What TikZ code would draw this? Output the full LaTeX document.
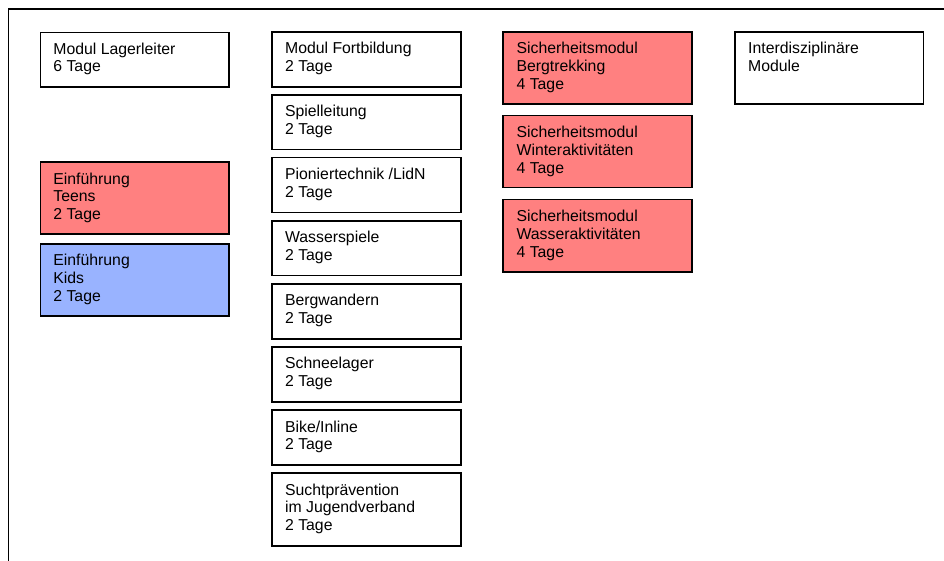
\documentclass[tikz,border=0pt]{standalone}
\usepackage{fontspec}
\setmainfont{Liberation Sans}
\definecolor{modred}{HTML}{FF8080}
\definecolor{modblue}{HTML}{99B3FF}
\newcommand{\fl}{\rule{0pt}{12pt}}
\begin{document}
\begin{tikzpicture}[
  box/.style={draw=black, line width=1.5pt, anchor=north west, inner sep=0pt,
              minimum width=188.6pt, minimum height=54.8pt},
  tall/.style={minimum height=72pt},
  lbl/.style={anchor=north west, align=left, inner sep=0pt,
              font=\fontsize{15.8}{17.8}\selectfont},
  frame/.style={draw=black, line width=1.5pt}
]
\useasboundingbox (0pt,0pt) rectangle (944pt,-561pt);
% frame (top and left edges)
\coordinate (fb) at (8.5pt,-565pt);
\coordinate (fc) at (8.5pt,-9pt);
\coordinate (fr) at (950pt,-9pt);
\draw[frame] (fb) -- (fc) -- (fr);

% column 1
\node[box] (lager) at (39.7pt,-31.6pt) {};
\node[lbl] (tlager) at ([shift={(13.5pt,-10.4pt)}]lager.north west) {\fl Modul Lagerleiter\\6 Tage};
\node[box, tall, fill=modred] (teens) at (39.7pt,-161.5pt) {};
\node[lbl] (tteens) at ([shift={(13.5pt,-10.4pt)}]teens.north west) {\fl Einführung\\Teens\\2 Tage};
\node[box, tall, fill=modblue] (kids) at (39.7pt,-243.2pt) {};
\node[lbl] (tkids) at ([shift={(13.5pt,-10.4pt)}]kids.north west) {\fl Einführung\\Kids\\2 Tage};

% column 2
\node[box] (fort) at (271.4pt,-31.4pt) {};
\node[lbl] (tfort) at ([shift={(13.5pt,-10.4pt)}]fort.north west) {\fl Modul Fortbildung\\2 Tage};
\node[box] (spiel) at (271.4pt,-94.2pt) {};
\node[lbl] (tspiel) at ([shift={(13.5pt,-10.4pt)}]spiel.north west) {\fl Spielleitung\\2 Tage};
\node[box] (pion) at (271.4pt,-157pt) {};
\node[lbl] (tpion) at ([shift={(13.5pt,-10.4pt)}]pion.north west) {\fl Pioniertechnik /LidN\\2 Tage};
\node[box] (wasser) at (271.4pt,-220.1pt) {};
\node[lbl] (twasser) at ([shift={(13.5pt,-10.4pt)}]wasser.north west) {\fl Wasserspiele\\2 Tage};
\node[box] (berg) at (271.4pt,-283.3pt) {};
\node[lbl] (tberg) at ([shift={(13.5pt,-10.4pt)}]berg.north west) {\fl Bergwandern\\2 Tage};
\node[box] (schnee) at (271.4pt,-346.3pt) {};
\node[lbl] (tschnee) at ([shift={(13.5pt,-10.4pt)}]schnee.north west) {\fl Schneelager\\2 Tage};
\node[box] (bike) at (271.4pt,-409.4pt) {};
\node[lbl] (tbike) at ([shift={(13.5pt,-10.4pt)}]bike.north west) {\fl Bike/Inline\\2 Tage};
\node[box, minimum height=72.8pt] (sucht) at (271.4pt,-472.4pt) {};
\node[lbl] (tsucht) at ([shift={(13.5pt,-10.4pt)}]sucht.north west) {\fl Suchtprävention\\im Jugendverband\\2 Tage};

% column 3
\node[box, tall, fill=modred] (sberg) at (502.4pt,-31.4pt) {};
\node[lbl] (tsberg) at ([shift={(14pt,-10.4pt)}]sberg.north west) {\fl Sicherheitsmodul\\Bergtrekking\\4 Tage};
\node[box, tall, fill=modred] (swinter) at (502.4pt,-115pt) {};
\node[lbl] (tswinter) at ([shift={(14pt,-10.4pt)}]swinter.north west) {\fl Sicherheitsmodul\\Winteraktivitäten\\4 Tage};
\node[box, tall, fill=modred] (swasser) at (502.4pt,-199pt) {};
\node[lbl] (tswasser) at ([shift={(14pt,-10.4pt)}]swasser.north west) {\fl Sicherheitsmodul\\Wasseraktivitäten\\4 Tage};

% column 4
\node[box, tall] (inter) at (734pt,-31.4pt) {};
\node[lbl] (tinter) at ([shift={(14pt,-10.4pt)}]inter.north west) {\fl Interdisziplinäre\\Module};
\end{tikzpicture}
\end{document}
